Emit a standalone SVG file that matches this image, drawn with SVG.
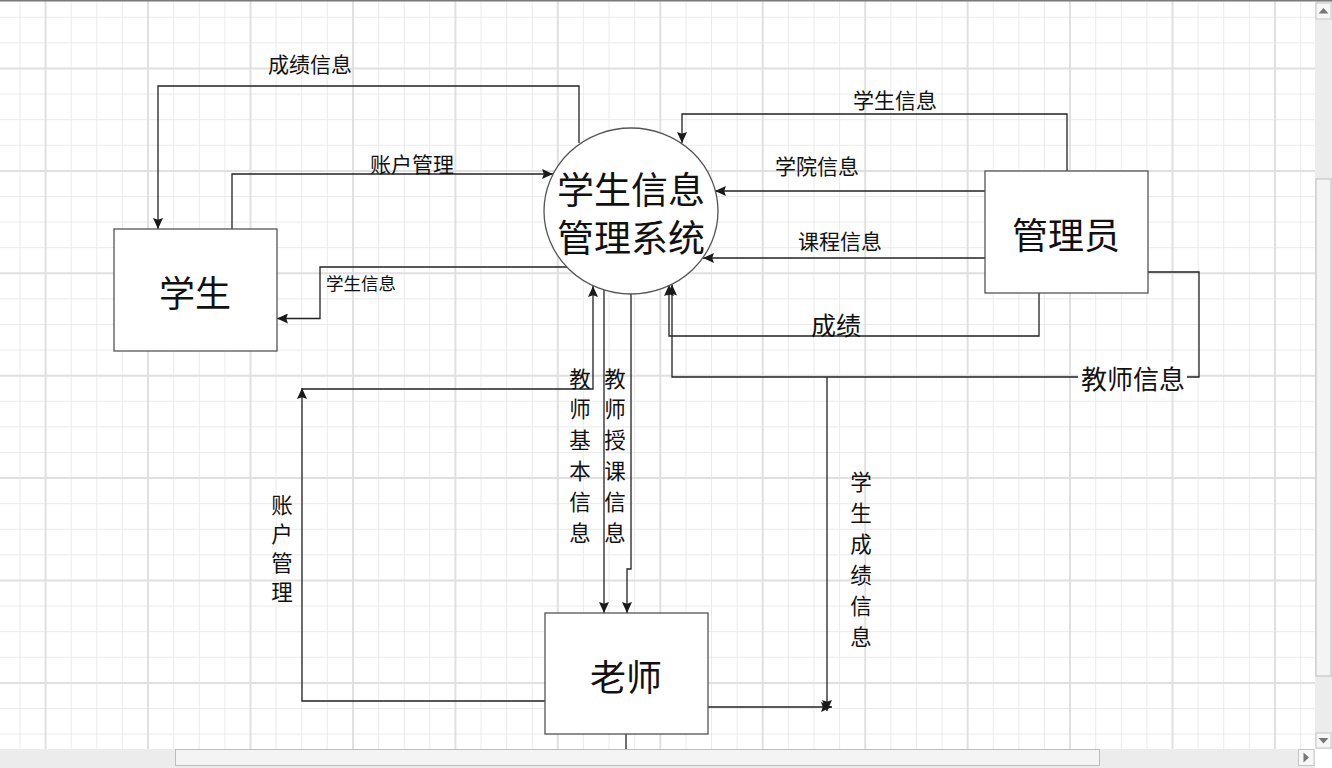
<svg xmlns="http://www.w3.org/2000/svg" width="1332" height="768" viewBox="0 0 1332 768">
<defs>
<style>
.minor{stroke:#ebebeb;stroke-width:1}
.major{stroke:#e0e0e0;stroke-width:2}
.node{fill:#ffffff;stroke:#555555;stroke-width:1.3}
.edge{fill:none;stroke:#222222;stroke-width:1.3}
.t{font-family:"Noto Sans CJK SC","Liberation Sans",sans-serif;fill:#111111;text-anchor:middle;dominant-baseline:central}
.big{font-size:36px}
.lbl{font-size:21px}
.vl{font-size:21.5px}
</style>
<marker id="arr" viewBox="0 0 12 10" refX="11" refY="5" markerWidth="12" markerHeight="10" markerUnits="userSpaceOnUse" orient="auto">
<path d="M0,0 L11,5 L0,10 L1.8,5 Z" fill="#1a1a1a"/>
</marker>
</defs>
<rect x="0" y="0" width="1332" height="768" fill="#ffffff"/>
<g id="grid">
<g class="minor">
<path d="M20,1V749M71.2,1V749M96.8,1V749M122.4,1V749M173.7,1V749M199.3,1V749M224.9,1V749M276.1,1V749M301.7,1V749M327.3,1V749M378.6,1V749M404.2,1V749M429.8,1V749M481,1V749M506.6,1V749M532.2,1V749M583.4,1V749M609,1V749M634.7,1V749M685.9,1V749M711.5,1V749M737.1,1V749M788.3,1V749M813.9,1V749M839.6,1V749M890.8,1V749M916.4,1V749M942,1V749M993.2,1V749M1018.8,1V749M1044.4,1V749M1095.7,1V749M1121.3,1V749M1146.9,1V749M1198.1,1V749M1223.7,1V749M1249.3,1V749M1300.6,1V749"/>
<path d="M0,17.3H1315M0,42.9H1315M0,94.1H1315M0,119.7H1315M0,145.3H1315M0,196.5H1315M0,222.1H1315M0,247.7H1315M0,298.9H1315M0,324.5H1315M0,350.1H1315M0,401.3H1315M0,426.9H1315M0,452.5H1315M0,503.7H1315M0,529.3H1315M0,554.9H1315M0,606.1H1315M0,631.7H1315M0,657.3H1315M0,708.5H1315M0,734.1H1315"/>
</g>
<g class="major">
<path d="M45.6,1V749M148,1V749M250.5,1V749M353,1V749M455.4,1V749M557.8,1V749M660.3,1V749M762.7,1V749M865.2,1V749M967.6,1V749M1070,1V749M1172.5,1V749M1275,1V749"/>
<path d="M0,68.5H1315M0,170.9H1315M0,273.3H1315M0,375.7H1315M0,478.1H1315M0,580.5H1315M0,682.9H1315"/>
</g>
</g>
<g id="connectors">
<path class="edge" d="M579,143 V86 H158 V229" marker-end="url(#arr)"/>
<path class="edge" d="M232,229 V174 H553" marker-end="url(#arr)"/>
<path class="edge" d="M567,267 H320 V318.5 H277" marker-end="url(#arr)"/>
<path class="edge" d="M1067,171 V114 H682 V143" marker-end="url(#arr)"/>
<path class="edge" d="M985,191 H715" marker-end="url(#arr)"/>
<path class="edge" d="M985,258 H703" marker-end="url(#arr)"/>
<path class="edge" d="M1039,293 V336 H669 V285" marker-end="url(#arr)"/>
<path class="edge" d="M1148,272 H1199 V377 H672 V284.5" marker-end="url(#arr)"/>
<path class="edge" d="M827,377 V711" marker-end="url(#arr)"/>
<path class="edge" d="M708,707 H832" marker-end="url(#arr)"/>
<path class="edge" d="M545,701 H302 V388" marker-end="url(#arr)"/>
<path class="edge" d="M302,389 H593 V286" marker-end="url(#arr)"/>
<path class="edge" d="M604,290 V613" marker-end="url(#arr)"/>
<path class="edge" d="M631,294 V569 H627 V613" marker-end="url(#arr)"/>
<path class="edge" d="M626,734 V749"/>
</g>
<g id="edge-labels">
<text class="t lbl" x="310" y="63">成绩信息</text>
<text class="t lbl" x="412" y="163">账户管理</text>
<text class="t" style="font-size:17.5px;text-anchor:start" x="326" y="282">学生信息</text>
<text class="t lbl" x="895" y="99">学生信息</text>
<text class="t lbl" x="817" y="165">学院信息</text>
<text class="t lbl" x="840" y="240">课程信息</text>
<text class="t" style="font-size:25px" x="836" y="324">成绩</text>
<rect x="1078" y="362" width="109" height="30" fill="#ffffff"/>
<text class="t" style="font-size:26px" x="1133" y="377">教师信息</text>
<g class="t vl">
<text x="282" y="503">账</text><text x="282" y="532">户</text><text x="282" y="561">管</text><text x="282" y="590">理</text>
<text x="580" y="377">教</text><text x="580" y="407">师</text><text x="580" y="438">基</text><text x="580" y="469">本</text><text x="580" y="500">信</text><text x="580" y="531">息</text>
<text x="615" y="377">教</text><text x="615" y="407">师</text><text x="615" y="438">授</text><text x="615" y="469">课</text><text x="615" y="500">信</text><text x="615" y="531">息</text>
<text x="861" y="480">学</text><text x="861" y="511">生</text><text x="861" y="542">成</text><text x="861" y="573">绩</text><text x="861" y="604">信</text><text x="861" y="635">息</text>
</g>
</g>
<g id="node-system">
<ellipse class="node" cx="631" cy="211" rx="87" ry="83"/>
<text class="t" style="font-size:37px" x="631" y="188">学生信息</text>
<text class="t" style="font-size:37px" x="631" y="236">管理系统</text>
</g>
<g id="node-student">
<rect class="node" x="114" y="229" width="163" height="122"/>
<text class="t big" x="195" y="291">学生</text>
</g>
<g id="node-admin">
<rect class="node" x="985" y="171" width="163" height="122"/>
<text class="t big" x="1066" y="233">管理员</text>
</g>
<g id="node-teacher">
<rect class="node" x="545" y="613" width="163" height="121"/>
<text class="t big" x="626" y="675">老师</text>
</g>
<g id="window-chrome">
<rect x="1315" y="1" width="17" height="748" fill="#ececec"/>
<rect x="1316" y="3" width="15" height="16" fill="#f7f7f7" stroke="#c4c4c4"/>
<path d="M1318.5,13.5 L1323.5,8 L1328.5,13.5 Z" fill="#777777"/>
<rect x="1316" y="179" width="15" height="497" fill="#f4f4f4" stroke="#bdbdbd"/>
<rect x="1316" y="733" width="15" height="15" fill="#f7f7f7" stroke="#c4c4c4"/>
<path d="M1318.5,738 L1328.5,738 L1323.5,743.5 Z" fill="#777777"/>
<rect x="0" y="749" width="1315" height="19" fill="#ececec"/>
<rect x="175.5" y="749.5" width="924" height="16" fill="#f4f4f4" stroke="#bdbdbd"/>
<rect x="1298.5" y="749.5" width="15.5" height="16" fill="#f7f7f7" stroke="#c4c4c4"/>
<path d="M1303.5,752.5 L1309,757.5 L1303.5,762.5 Z" fill="#777777"/>
<path d="M0,0.8 H1332" stroke="#7a7a7a" stroke-width="1.6"/>
</g>
</svg>
